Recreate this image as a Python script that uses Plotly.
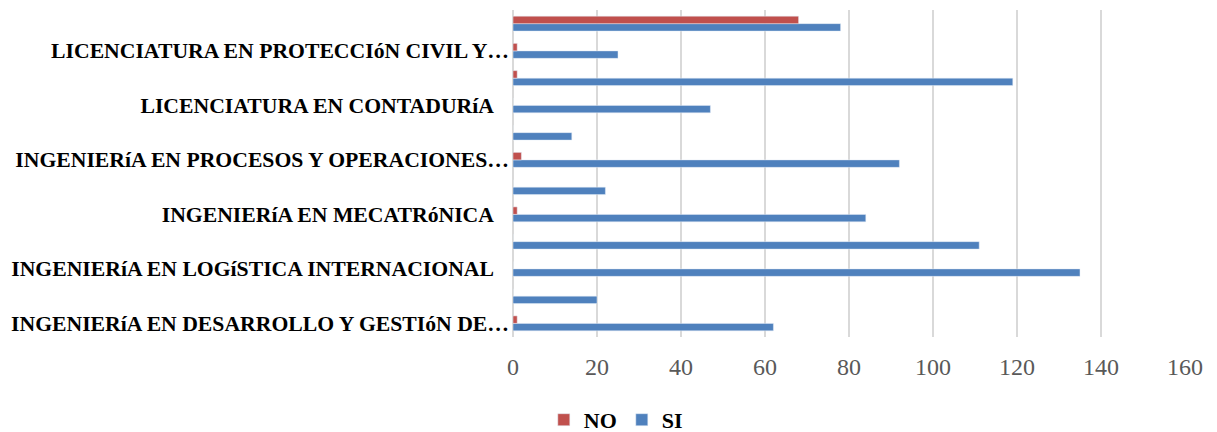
import plotly.graph_objects as go

# Programas educativos (de abajo hacia arriba en el eje)
carreras = [
    "INGENIERíA EN DESARROLLO Y GESTIóN DE SOFTWARE",
    "INGENIERíA EN ENERGíA",
    "INGENIERíA EN LOGíSTICA INTERNACIONAL",
    "INGENIERíA EN MANUFACTURA",
    "INGENIERíA EN MECATRóNICA",
    "INGENIERíA EN NANOTECNOLOGíA",
    "INGENIERíA EN PROCESOS Y OPERACIONES INDUSTRIALES",
    "INGENIERíA FINANCIERA",
    "LICENCIATURA EN CONTADURíA",
    "LICENCIATURA EN NEGOCIOS INTERNACIONALES",
    "LICENCIATURA EN PROTECCIóN CIVIL Y EMERGENCIAS",
    "LICENCIATURA EN TERAPIA FíSICA",
]

si = [62, 20, 135, 111, 84, 22, 92, 14, 47, 119, 25, 78]
no = [1, 0, 0, 0, 1, 0, 2, 0, 0, 1, 1, 68]

# Solo se rotula una de cada dos categorías
rotuladas = [carreras[i] for i in range(0, 12, 2)]
rotulos = [
    "INGENIERíA EN DESARROLLO Y GESTIóN DE…",
    "INGENIERíA EN LOGíSTICA INTERNACIONAL   ",
    "INGENIERíA EN MECATRóNICA   ",
    "INGENIERíA EN PROCESOS Y OPERACIONES…",
    "LICENCIATURA EN CONTADURíA   ",
    "LICENCIATURA EN PROTECCIóN CIVIL Y…",
]

ticks_x = [0, 20, 40, 60, 80, 100, 120, 140, 160]

AZUL = "#4F81BD"
ROJO = "#C0504D"
SERIF = "Liberation Serif"

fig = go.Figure()
fig.add_trace(go.Bar(y=carreras, x=si, name="SI", orientation="h",
                     marker=dict(color=AZUL)))
fig.add_trace(go.Bar(y=carreras, x=no, name="NO", orientation="h",
                     marker=dict(color=ROJO)))

fig.update_layout(
    width=1217, height=432,
    margin=dict(l=513, r=32, t=10, b=95, autoexpand=False),
    paper_bgcolor="white", plot_bgcolor="white",
    barmode="group", bargap=0.45, bargroupgap=0,
    showlegend=True,
    legend=dict(
        orientation="h", traceorder="reversed",
        xref="container", yref="container",
        x=0.506, xanchor="center", y=0.028, yanchor="middle",
        font=dict(family=SERIF, size=22, color="black", weight="bold"),
        itemwidth=30,
    ),
    xaxis=dict(
        range=[0, 160], tickvals=ticks_x, automargin=False,
        showgrid=True, gridcolor="#D9D9D9", gridwidth=1.5,
        zeroline=True, zerolinecolor="#D9D9D9", zerolinewidth=1.5,
        showline=False, ticks="",
        tickfont=dict(family=SERIF, size=24, color="#595959"),
        ticklabelstandoff=13,
    ),
    yaxis=dict(
        type="category", categoryorder="array", categoryarray=carreras,
        tickmode="array", tickvals=rotuladas, ticktext=rotulos,
        automargin=False,
        showgrid=False, zeroline=False, showline=False, ticks="",
        tickfont=dict(family=SERIF, size=21.7, color="black", weight="bold"),
        ticklabelstandoff=3,
    ),
)

fig.write_html("out.html")
